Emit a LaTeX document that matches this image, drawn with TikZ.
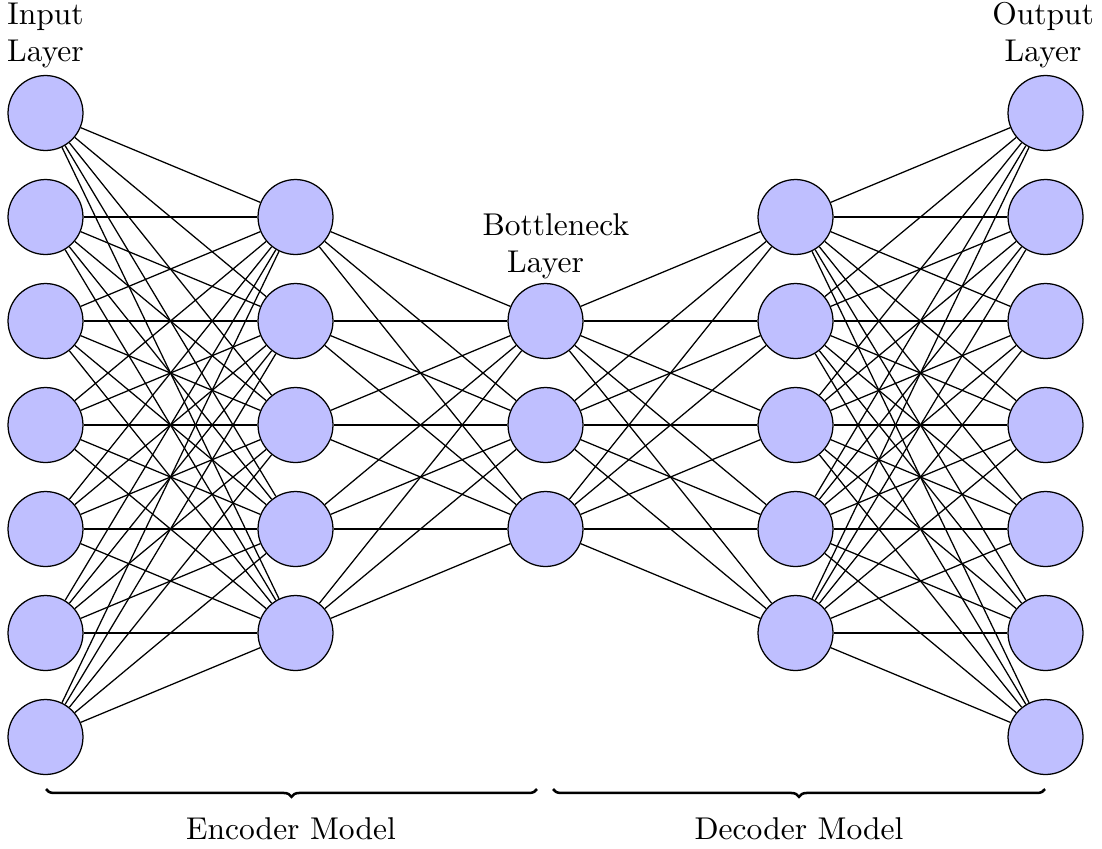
\documentclass[tikz,border=0pt]{standalone}
\usetikzlibrary{decorations.pathreplacing}
\begin{document}
\begin{tikzpicture}[x=0.3175pt,y=-0.3175pt,
  neuron/.style={circle,draw=black,fill=blue!25,minimum size=23.8pt,inner sep=0pt},
  link/.style={draw=black,line width=0.4pt},
  layername/.style={align=center,anchor=south,inner sep=0pt},
  modelbrace/.style={decorate,decoration={brace,amplitude=2.5pt,mirror},thick},
  modelname/.style={anchor=base,inner sep=0pt}]
\useasboundingbox (0,0) rectangle (1102,848);

% layers of the autoencoder
\foreach \i in {1,...,7}
  \node[neuron] (I\i) at (45.5,{113+104*(\i-1)}) {};
\foreach \i in {1,...,5}
  \node[neuron] (A\i) at (295.5,{217+104*(\i-1)}) {};
\foreach \i in {1,...,3}
  \node[neuron] (B\i) at (545.5,{321+104*(\i-1)}) {};
\foreach \i in {1,...,5}
  \node[neuron] (C\i) at (795.5,{217+104*(\i-1)}) {};
\foreach \i in {1,...,7}
  \node[neuron] (O\i) at (1045.5,{113+104*(\i-1)}) {};

% full connections between neighbouring layers
\foreach \a in {1,...,7}
  \foreach \b in {1,...,5}
    \draw[link] (I\a) -- (A\b);
\foreach \a in {1,...,5}
  \foreach \b in {1,...,3}
    \draw[link] (A\a) -- (B\b);
\foreach \a in {1,...,3}
  \foreach \b in {1,...,5}
    \draw[link] (B\a) -- (C\b);
\foreach \a in {1,...,5}
  \foreach \b in {1,...,7}
    \draw[link] (C\a) -- (O\b);

% layer titles
\node[layername] (tin) at (45.5,69) {Input\\Layer};
\node[layername] (tbn) at (545.5,280) {\hspace*{6.6pt}Bottleneck\\Layer};
\node[layername] (tout) at (1043,69) {Output\\Layer};

% model braces
\coordinate (e1) at (46,789);
\coordinate (e2) at (537,789);
\coordinate (d1) at (553,789);
\coordinate (d2) at (1045,789);
\draw[modelbrace] (e1) -- (e2);
\draw[modelbrace] (d1) -- (d2);
\node[modelname] (enc) at (291,839) {Encoder Model};
\node[modelname] (dec) at (799,839) {Decoder Model};
\end{tikzpicture}
\end{document}
